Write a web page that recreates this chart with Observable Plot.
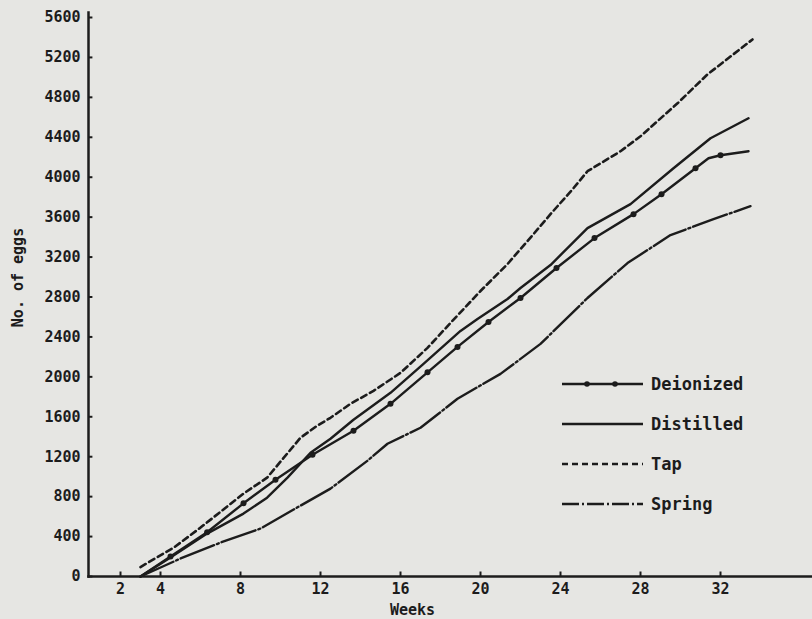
<!DOCTYPE html>
<html>
<head>
<meta charset="utf-8">
<script src="https://cdn.jsdelivr.net/npm/d3@7"></script>
<script src="https://cdn.jsdelivr.net/npm/@observablehq/plot@0.6"></script>
<style>
  html, body { margin: 0; padding: 0; background: #e6e6e3; }
  #wrap { position: relative; width: 812px; height: 619px; overflow: hidden; }
  .leg { position: absolute; display: flex; align-items: center; font-family: "DejaVu Sans Mono", monospace; font-weight: bold; font-size: 17px; color: #1c1c1c; }
  .leg svg { margin-right: 8px; }
</style>
</head>
<body>
<div id="wrap"></div>
<script>
// ---- data ----
const weeksDeionized = [3, 4.5, 6.33, 8.15, 9.75, 11.6, 13.65, 15.5, 17.35, 18.85, 20.4, 22, 23.8, 25.7, 27.65, 29.05, 30.75, 31.4, 32, 33.4];
const eggsDeionized  = [0, 200, 443, 733, 970, 1220, 1460, 1730, 2045, 2300, 2550, 2790, 3090, 3390, 3630, 3830, 4090, 4190, 4220, 4260];
const markDeionized  = [false, true, true, true, true, true, true, true, true, true, true, true, true, true, true, true, true, false, true, false];

const weeksDistilled = [3, 4.5, 6.33, 8.15, 9.33, 10.35, 11.5, 12.5, 13.65, 15.5, 17.15, 19, 19.85, 21.35, 22, 23.5, 25.35, 27.5, 29.65, 31.5, 33.4];
const eggsDistilled  = [0, 190, 430, 630, 790, 990, 1240, 1380, 1570, 1840, 2130, 2460, 2580, 2780, 2890, 3120, 3490, 3730, 4090, 4390, 4590];

const weeksTap = [3, 4.67, 6, 8.15, 9.33, 10.33, 11, 11.83, 12.5, 13.5, 14.65, 16, 17.35, 18.5, 20, 21.35, 22.65, 23.5, 24.65, 25.35, 27, 28, 29.85, 31.35, 33.6];
const eggsTap  = [95, 290, 490, 830, 990, 1230, 1390, 1510, 1590, 1730, 1860, 2040, 2290, 2540, 2860, 3130, 3430, 3630, 3890, 4060, 4260, 4410, 4740, 5030, 5380];

const weeksSpring = [3, 5, 7, 9, 11, 12.5, 14.35, 15.35, 17, 18.85, 21, 23, 25.35, 27.35, 29.5, 31.65, 33.5];
const eggsSpring  = [0, 180, 340, 480, 710, 880, 1160, 1330, 1490, 1780, 2030, 2330, 2790, 3140, 3420, 3580, 3710];

const xTicks = [2, 4, 8, 12, 16, 20, 24, 28, 32];
const yTicks = [0, 400, 800, 1200, 1600, 2000, 2400, 2800, 3200, 3600, 4000, 4400, 4800, 5200, 5600];
const xLabel = "Weeks";
const yLabel = "No. of eggs";
const seriesNames = ["Deionized", "Distilled", "Tap", "Spring"];

// ---- build tables ----
const toRows = (w, e) => w.map((x, i) => ({week: x, eggs: e[i]}));
const deion = weeksDeionized.map((x, i) => ({week: x, eggs: eggsDeionized[i], mark: markDeionized[i]}));
const dist = toRows(weeksDistilled, eggsDistilled);
const tap = toRows(weeksTap, eggsTap);
const spring = toRows(weeksSpring, eggsSpring);

const INK = "#1c1c1c";
const xMin = 0.4, xMax = 36.6;

const chart = Plot.plot({
  width: 812,
  height: 619,
  marginLeft: 88,
  marginRight: 0,
  marginTop: 12,
  marginBottom: 43,
  style: {background: "transparent", fontFamily: "DejaVu Sans Mono, monospace", fontWeight: "bold", fontSize: "15px", color: INK},
  x: {domain: [xMin, xMax]},
  y: {domain: [0, 5650]},
  marks: [
    Plot.axisX(xTicks, {tickSize: 0, tickPadding: 7, label: null, tickFormat: d3.format("d"), fontSize: 15}),
    Plot.axisY(yTicks, {tickSize: 0, tickPadding: 8, label: null, tickFormat: d3.format("d"), fontSize: 15}),
    Plot.ruleX(xTicks, {x: d => d, y1: 0, y2: 45, stroke: INK, strokeWidth: 2}),
    Plot.ruleY(yTicks, {y: d => d, x1: xMin, x2: xMin + 0.22, stroke: INK, strokeWidth: 2}),
    Plot.frame({anchor: "left", stroke: INK, strokeWidth: 2.5}),
    Plot.frame({anchor: "bottom", stroke: INK, strokeWidth: 2.5}),
    Plot.line(tap, {x: "week", y: "eggs", stroke: INK, strokeWidth: 2.6, strokeDasharray: "6,4"}),
    Plot.line(dist, {x: "week", y: "eggs", stroke: INK, strokeWidth: 2.4}),
    Plot.line(deion, {x: "week", y: "eggs", stroke: INK, strokeWidth: 2.4}),
    Plot.dot(deion, {filter: d => d.mark, x: "week", y: "eggs", r: 3, fill: INK, stroke: "none"}),
    Plot.line(spring, {x: "week", y: "eggs", stroke: INK, strokeWidth: 2.4, strokeDasharray: "36,3,2,3"}),
    Plot.text([xLabel], {frameAnchor: "bottom", dx: -38, dy: 28, lineAnchor: "top", fontSize: 15, fontWeight: "bold", fill: INK}),
    Plot.text([yLabel], {frameAnchor: "left", textAnchor: "middle", dx: -70, dy: -17, rotate: -90, fontSize: 15, fontWeight: "bold", fill: INK})
  ]
});

const wrap = document.getElementById("wrap");
wrap.appendChild(chart);

// ---- legend (overlay) ----
const dashes = ["", "", "6,4", "17,3,2,3"];
seriesNames.forEach((name, i) => {
  const div = document.createElement("div");
  div.className = "leg";
  div.style.left = "561px";
  div.style.top = (373 + i * 40) + "px";
  div.style.height = "22px";
  const ns = "http://www.w3.org/2000/svg";
  const s = document.createElementNS(ns, "svg");
  s.setAttribute("width", "82");
  s.setAttribute("height", "10");
  const ln = document.createElementNS(ns, "line");
  ln.setAttribute("x1", "1"); ln.setAttribute("x2", "82");
  ln.setAttribute("y1", "5"); ln.setAttribute("y2", "5");
  ln.setAttribute("stroke", INK); ln.setAttribute("stroke-width", "2.5");
  if (dashes[i]) ln.setAttribute("stroke-dasharray", dashes[i]);
  s.appendChild(ln);
  if (i === 0) {
    [26, 54].forEach(cx => {
      const c = document.createElementNS(ns, "circle");
      c.setAttribute("cx", cx); c.setAttribute("cy", "5"); c.setAttribute("r", "2.8");
      c.setAttribute("fill", INK);
      s.appendChild(c);
    });
  }
  div.appendChild(s);
  const t = document.createElement("span");
  t.textContent = name;
  div.appendChild(t);
  wrap.appendChild(div);
});
</script>
</body>
</html>
